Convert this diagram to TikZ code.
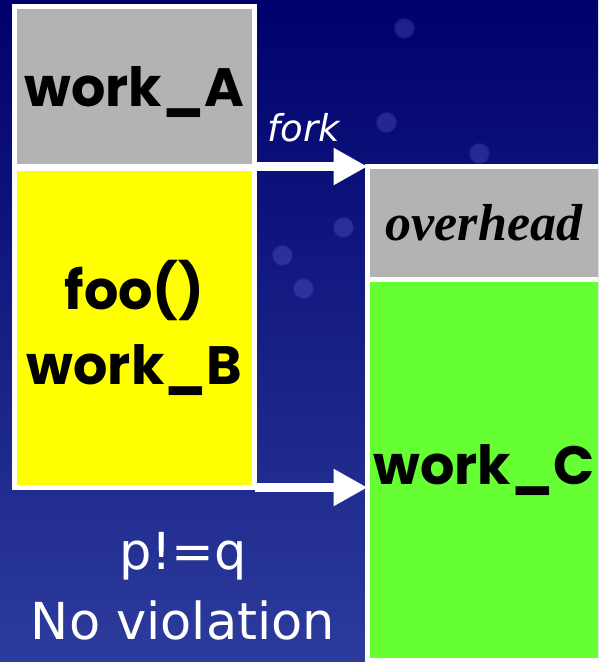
\documentclass[tikz,border=0pt]{standalone}
\usepackage{fontspec}
\setmainfont{DejaVu Sans}
\newfontfamily\comicfont{Poppins}
\newfontfamily\timesfont{Liberation Serif}
\usetikzlibrary{arrows.meta,fadings}
\definecolor{slidetop}{RGB}{0,0,108}
\definecolor{slidebot}{RGB}{44,60,156}
\definecolor{taskgray}{RGB}{179,179,179}
\definecolor{taskyellow}{RGB}{255,255,0}
\definecolor{taskgreen}{RGB}{102,255,51}

\begin{document}
\begin{tikzpicture}[x=1pt,y=-1pt,>={Triangle[length=34pt,width=35pt]},
  task/.style={draw=white,line width=5pt,inner sep=0pt,outer sep=0pt,align=center,
    font=\comicfont\bfseries\fontsize{54}{75}\selectfont},
  spawn/.style={->,white,line width=9pt}]
 \useasboundingbox (0,0) rectangle (598,662);
 \clip (0,0) rectangle (598,662);
 \shade[top color=slidetop,bottom color=slidebot] (0,0) rectangle (598,662);
 % faint stars in the sky
 \foreach \sx/\sy in {404/28,386/122,479/153,343/227,282/255,303/288}
  \fill[blue!45!white,opacity=.22,path fading=circle with fuzzy edge 20 percent]
   (\sx,\sy) circle (11pt);
 % the two tasks and what the fork spawns
 \node[task,fill=taskgray,minimum width=240pt,minimum height=160pt,text depth=0pt] (workA) at (134.5,86.5) {work\_A};
 \node[task,fill=taskyellow,minimum width=240pt,minimum height=319pt] (workB) at (134.5,328) {foo()\\work\_B};
 \node[task,fill=taskgray,minimum width=233pt,minimum height=112.5pt,
   font=\timesfont\bfseries\itshape\fontsize{52}{60}\selectfont] (ovh) at (484,222.75) {overhead};
 \node[task,fill=taskgreen,minimum width=233pt,minimum height=381.5pt,text width=226pt] (workC) at (484,469.75) {work\_C};
 \draw[spawn] (workA.south east) -- (ovh.north west);
 \draw[spawn] (workB.south east) -- (workB.south east -| workC.west);
 \node[text=white,font=\itshape\fontsize{37}{40}\selectfont] (fork) at (304,128) {fork};
 \node[text=white,align=center,font=\fontsize{51}{70}\selectfont] (cond) at (183,586.5) {p!=q\\No violation};
\end{tikzpicture}
\end{document}
